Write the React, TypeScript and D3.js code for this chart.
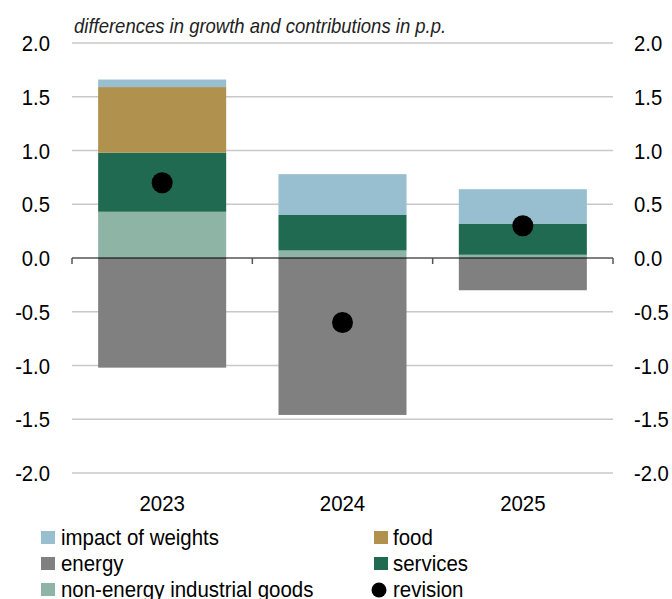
import { useMemo } from "react";
import * as d3 from "d3";

const WIDTH = 672;
const HEIGHT = 599;
const MARGIN = { top: 43, right: 59, bottom: 126, left: 72 };

const YEARS = ["2023", "2024", "2025"];
// stacked contributions in p.p.
const NON_ENERGY = [0.43, 0.07, 0.03];
const SERVICES = [0.55, 0.33, 0.29];
const FOOD = [0.61, 0.0, 0.0];
const WEIGHTS = [0.07, 0.38, 0.32];
const ENERGY = [-1.02, -1.46, -0.3];
const REVISION = [0.7, -0.6, 0.3];

const Y_TICKS = [-2, -1.5, -1, -0.5, 0, 0.5, 1, 1.5, 2];

const SERIES = [
  { key: "nonEnergy", label: "non-energy industrial goods", values: NON_ENERGY, color: "#8db4a5" },
  { key: "services", label: "services", values: SERVICES, color: "#1f6a51" },
  { key: "food", label: "food", values: FOOD, color: "#b0914e" },
  { key: "weights", label: "impact of weights", values: WEIGHTS, color: "#98bfcf" },
  { key: "energy", label: "energy", values: ENERGY, color: "#808080" },
];

const FONT = "'Liberation Sans', Arial, sans-serif";

export default function App() {
  const boundsWidth = WIDTH - MARGIN.left - MARGIN.right;
  const boundsHeight = HEIGHT - MARGIN.top - MARGIN.bottom;

  const xScale = useMemo(
    () => d3.scaleBand<string>().domain(YEARS).range([0, boundsWidth]).paddingInner(0.29).paddingOuter(0.145),
    [boundsWidth]
  );
  const xBands = useMemo(
    () => d3.scaleBand<string>().domain(YEARS).range([0, boundsWidth]),
    [boundsWidth]
  );
  const yScale = useMemo(() => d3.scaleLinear().domain([-2, 2]).range([boundsHeight, 0]), [boundsHeight]);

  // stack positive and negative parts separately
  const rects: JSX.Element[] = [];
  YEARS.forEach((year, i) => {
    let pos = 0;
    let neg = 0;
    SERIES.forEach((s) => {
      const v = s.values[i];
      if (!v) return;
      let y0, y1;
      if (v >= 0) {
        y0 = pos;
        y1 = pos + v;
        pos = y1;
      } else {
        y0 = neg + v;
        y1 = neg;
        neg = y0;
      }
      rects.push(
        <rect
          key={`${s.key}_${year}`}
          x={xScale(year)}
          width={xScale.bandwidth()}
          y={yScale(y1)}
          height={yScale(y0) - yScale(y1)}
          fill={s.color}
        />
      );
    });
  });

  const boundaries = [...YEARS.map((y) => xBands(y) as number), boundsWidth];

  const legendLeft = [
    { label: "impact of weights", color: "#98bfcf" },
    { label: "energy", color: "#808080" },
    { label: "non-energy industrial goods", color: "#8db4a5" },
  ];
  const legendRight = [
    { label: "food", color: "#b0914e" },
    { label: "services", color: "#1f6a51" },
  ];

  return (
    <svg width={WIDTH} height={HEIGHT} style={{ position: "absolute", left: 0, top: 0 }} fontFamily={FONT}>
      <text fontSize={19.9} fontStyle="italic" fill="#222" transform="translate(74,33) scale(0.93,1)">
        differences in growth and contributions in p.p.
      </text>
      <g transform={`translate(${MARGIN.left},${MARGIN.top})`}>
        {Y_TICKS.filter((t) => t !== 0).map((t) => (
          <line key={t} x1={0} x2={boundsWidth} y1={yScale(t)} y2={yScale(t)} stroke="#c8c8c8" strokeWidth={1.4} />
        ))}
        {Y_TICKS.map((t) => (
          <g key={`lab${t}`}>
            <text
              transform={`translate(-22,${yScale(t)}) scale(0.9,1)`}
              dy="0.36em"
              textAnchor="end"
              fontSize={22.5}
              fill="#000"
            >
              {t.toFixed(1)}
            </text>
            <text
              transform={`translate(${boundsWidth + 21},${yScale(t)}) scale(0.9,1)`}
              dy="0.36em"
              textAnchor="start"
              fontSize={22.5}
              fill="#000"
            >
              {t.toFixed(1)}
            </text>
          </g>
        ))}
        {rects}
        <line x1={0} x2={boundsWidth} y1={yScale(0)} y2={yScale(0)} stroke="#000" strokeWidth={1.2} />
        {boundaries.map((b, i) => (
          <line key={`tick${i}`} x1={b} x2={b} y1={yScale(0)} y2={yScale(0) + 6} stroke="#555" strokeWidth={1.5} />
        ))}
        {REVISION.map((v, i) => (
          <circle
            key={`rev${i}`}
            cx={(xScale(YEARS[i]) as number) + xScale.bandwidth() / 2}
            cy={yScale(v)}
            r={10.5}
            fill="#000"
          />
        ))}
        {YEARS.map((y) => (
          <text
            key={`yr${y}`}
            transform={`translate(${(xBands(y) as number) + xBands.bandwidth() / 2},${boundsHeight + 38}) scale(0.95,1)`}
            textAnchor="middle"
            fontSize={21.5}
            fill="#000"
          >
            {y}
          </text>
        ))}
      </g>
      <g>
        {legendLeft.map((l, i) => (
          <g key={l.label} transform={`translate(41,${531 + i * 26})`}>
            <rect width={14} height={13} fill={l.color} />
            <text transform="translate(20,14) scale(0.93,1)" fontSize={22} fill="#000">
              {l.label}
            </text>
          </g>
        ))}
        {legendRight.map((l, i) => (
          <g key={l.label} transform={`translate(374,${531 + i * 26})`}>
            <rect width={14} height={13} fill={l.color} />
            <text transform="translate(19,14) scale(0.93,1)" fontSize={22} fill="#000">
              {l.label}
            </text>
          </g>
        ))}
        <g transform={`translate(374,${531 + 2 * 26})`}>
          <circle cx={5} cy={7} r={7.5} fill="#000" />
          <text transform="translate(19,14) scale(0.93,1)" fontSize={22} fill="#000">
            revision
          </text>
        </g>
      </g>
    </svg>
  );
}
